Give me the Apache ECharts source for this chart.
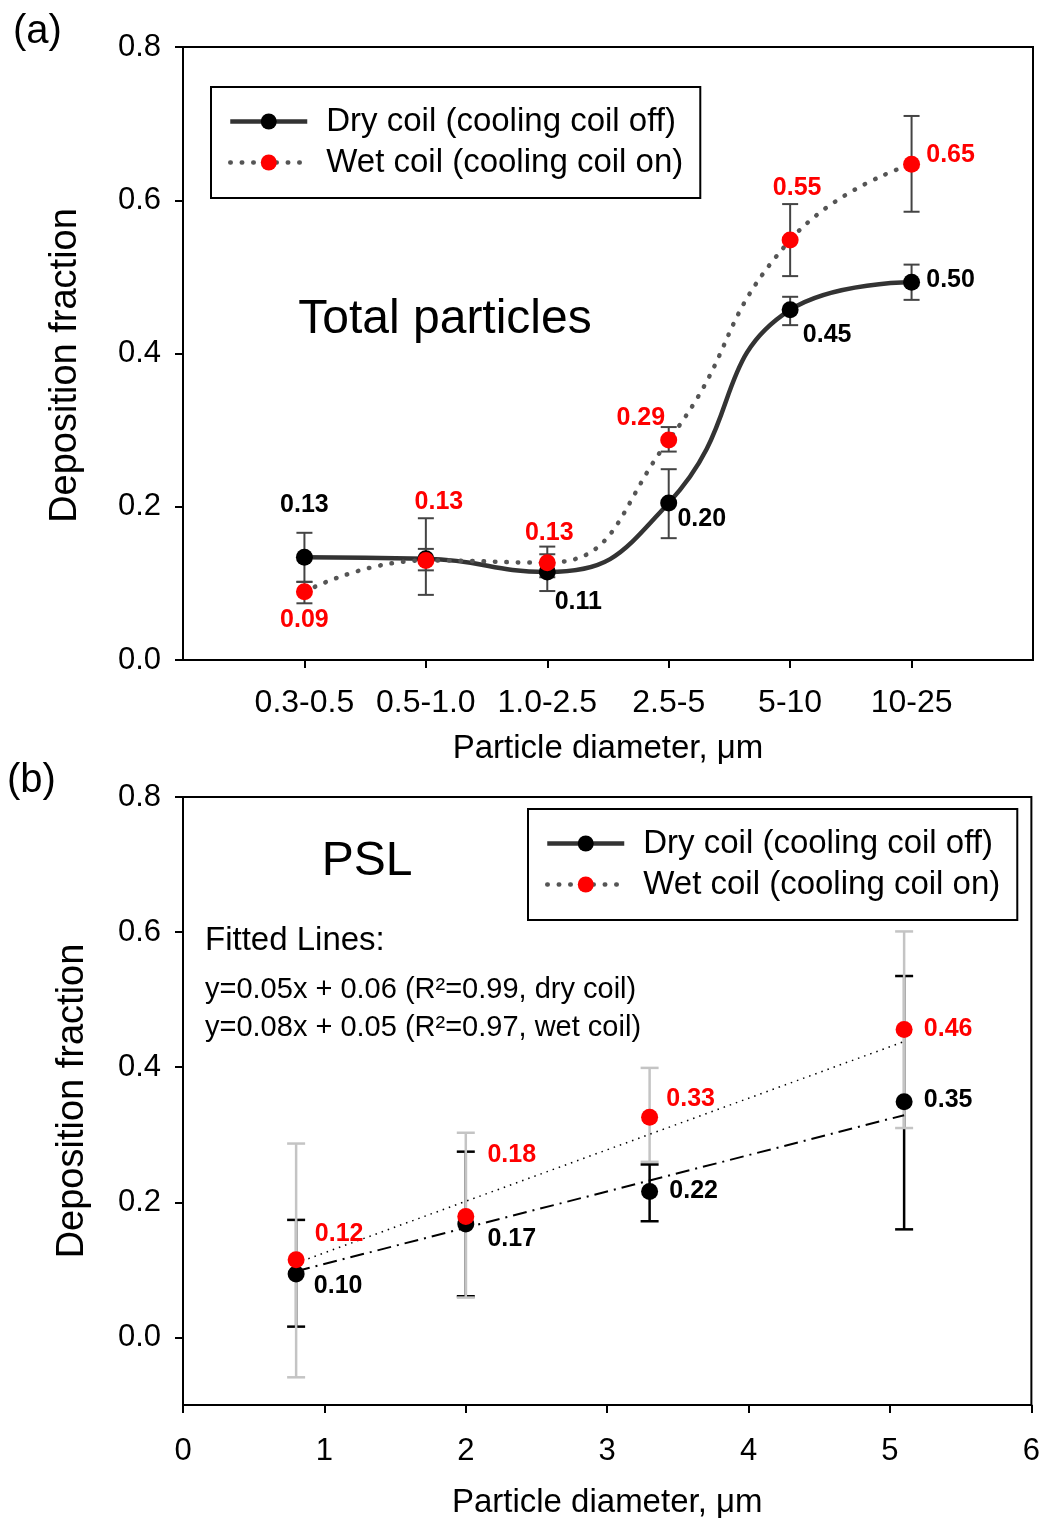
<!DOCTYPE html>
<html>
<head>
<meta charset="utf-8">
<script src="https://cdn.jsdelivr.net/npm/echarts@6/dist/echarts.min.js"></script>
<style>
  html, body { margin: 0; padding: 0; background: #fff; }
  #chart { width: 1043px; height: 1520px; }
</style>
</head>
<body>
<div id="chart"></div>
<script>
// (a) total particles, by size bin
const sizeBins = ["0.3-0.5", "0.5-1.0", "1.0-2.5", "2.5-5", "5-10", "10-25"];
const dryTotal = [0.134, 0.132, 0.115, 0.205, 0.457, 0.493];
const dryTotalLow = [0.102, 0.117, 0.090, 0.159, 0.437, 0.470];
const dryTotalHigh = [0.166, 0.145, 0.138, 0.249, 0.474, 0.516];
const wetTotal = [0.089, 0.130, 0.127, 0.287, 0.548, 0.647];
const wetTotalLow = [0.074, 0.085, 0.108, 0.272, 0.501, 0.585];
const wetTotalHigh = [0.102, 0.185, 0.148, 0.304, 0.595, 0.710];
const dryTotalText = ["0.13", "", "0.11", "0.20", "0.45", "0.50"];
const wetTotalText = ["0.09", "0.13", "0.13", "0.29", "0.55", "0.65"];

// (b) PSL
const pslDiameter = [0.8, 2.0, 3.3, 5.1];
const dryPsl = [0.094, 0.168, 0.216, 0.349];
const dryPslLow = [0.016, 0.061, 0.172, 0.160];
const dryPslHigh = [0.174, 0.275, 0.256, 0.535];
const wetPsl = [0.115, 0.179, 0.326, 0.456];
const wetPslLow = [-0.059, 0.059, 0.260, 0.310];
const wetPslHigh = [0.287, 0.303, 0.399, 0.601];
const dryPslText = ["0.10", "0.17", "0.22", "0.35"];
const wetPslText = ["0.12", "0.18", "0.33", "0.46"];
const dryFit = [[0.8, 0.098], [5.1, 0.329]];
const wetFit = [[0.8, 0.110], [5.1, 0.438]];
const fitText = [
  "Fitted Lines:",
  "y=0.05x + 0.06 (R²=0.99, dry coil)",
  "y=0.08x + 0.05 (R²=0.97, wet coil)",
];

const yTicks = [0, 0.2, 0.4, 0.6, 0.8];
const DRY = "Dry coil (cooling coil off)";
const WET = "Wet coil (cooling coil on)";
const FONT = "'Liberation Sans', Arial, sans-serif";

// label offsets from the marker centre
const dryTotalOff = [[0, -52], [0, 0], [31, 30], [33, 16], [37, 25], [39, -2]];
const wetTotalOff = [[0, 28], [13, -58], [2, -30], [-28, -22], [7, -52], [39, -9]];
const dryPslOff = [[42, 12], [46, 15], [44, 0], [44, -2]];
const wetPslOff = [[43, -26], [46, -61], [41, -18], [44, 0]];

function points(xs, ys, texts, offs, color) {
  return ys.map((v, i) => ({
    value: [xs[i], v],
    label: {
      show: texts[i] !== "",
      position: "inside",
      offset: offs[i],
      formatter: texts[i],
      color: color,
      fontSize: 25,
      fontWeight: "bold",
      fontFamily: FONT,
    },
  }));
}

function errorBars(xs, lows, highs, color, width, cap, grid, z) {
  return {
    type: "custom",
    xAxisIndex: grid,
    yAxisIndex: grid,
    silent: true,
    z: z,
    data: xs.map((x, i) => [x, lows[i], highs[i]]),
    encode: { x: 0, y: [1, 2] },
    renderItem: function (params, api) {
      const lo = api.coord([api.value(0), api.value(1)]);
      const hi = api.coord([api.value(0), api.value(2)]);
      const style = { stroke: color, lineWidth: width };
      return {
        type: "group",
        children: [
          { type: "line", shape: { x1: lo[0], y1: lo[1], x2: hi[0], y2: hi[1] }, style: style },
          { type: "line", shape: { x1: lo[0] - cap, y1: lo[1], x2: lo[0] + cap, y2: lo[1] }, style: style },
          { type: "line", shape: { x1: hi[0] - cap, y1: hi[1], x2: hi[0] + cap, y2: hi[1] }, style: style },
        ],
      };
    },
  };
}

const binX = sizeBins.map((_, i) => i + 1);

const axisLine = { show: true, onZero: false, lineStyle: { color: "#000", width: 2 } };
const axisTick = { show: true, inside: false, length: 8, lineStyle: { color: "#000", width: 2 } };
const tickFont = { color: "#000", fontFamily: FONT };
const nameFont = { color: "#000", fontFamily: FONT };

function legendAt(left, top) {
  return {
    orient: "vertical",
    left: left,
    top: top,
    data: [DRY, WET],
    padding: [18, 17, 19, 17],
    borderColor: "#000",
    borderWidth: 2,
    itemWidth: 77,
    itemHeight: 20,
    itemGap: 8,
    selectedMode: false,
    lineStyle: { width: "inherit" },
    textStyle: {
      fontSize: 33,
      lineHeight: 33,
      color: "#000",
      fontFamily: FONT,
      padding: [0, 0, 0, 14],
    },
  };
}

const chart = echarts.init(document.getElementById("chart"), null, { renderer: "canvas" });

chart.setOption({
  backgroundColor: "#fff",
  animation: false,
  textStyle: { fontFamily: FONT },
  grid: [
    { left: 183, top: 47, width: 850, height: 613, show: true, borderColor: "#000", borderWidth: 2 },
    { left: 183, top: 797, width: 850, height: 611, show: true, borderColor: "#000", borderWidth: 2 },
  ],
  xAxis: [
    {
      gridIndex: 0,
      type: "value",
      min: 0,
      max: 7,
      interval: 1,
      axisLine: axisLine,
      axisTick: Object.assign({}, axisTick, { customValues: binX }),
      splitLine: { show: false },
      axisLabel: Object.assign({}, tickFont, {
        fontSize: 32,
        margin: 27,
        customValues: binX,
        formatter: (v) => sizeBins[Math.round(v) - 1] || "",
      }),
      name: "Particle diameter, \u03bcm",
      nameLocation: "middle",
      nameGap: 72,
      nameTextStyle: Object.assign({}, nameFont, { fontSize: 33 }),
    },
    {
      gridIndex: 1,
      type: "value",
      min: 0,
      max: 6,
      interval: 1,
      axisLine: axisLine,
      axisTick: axisTick,
      splitLine: { show: false },
      axisLabel: Object.assign({}, tickFont, { fontSize: 31, margin: 31 }),
      name: "Particle diameter, \u03bcm",
      nameLocation: "middle",
      nameGap: 81,
      nameTextStyle: Object.assign({}, nameFont, { fontSize: 33 }),
    },
  ],
  yAxis: [
    {
      gridIndex: 0,
      type: "value",
      min: 0,
      max: 0.8,
      interval: 0.2,
      axisLine: axisLine,
      axisTick: axisTick,
      splitLine: { show: false },
      axisLabel: Object.assign({}, tickFont, { fontSize: 31, margin: 22, formatter: (v) => v.toFixed(1) }),
      name: "Deposition fraction",
      nameLocation: "middle",
      nameGap: 98,
      nameTextStyle: Object.assign({}, nameFont, { fontSize: 38, padding: [0, 24, 0, 0] }),
    },
    {
      gridIndex: 1,
      type: "value",
      min: -0.1,
      max: 0.8,
      axisLine: axisLine,
      axisTick: Object.assign({}, axisTick, { customValues: yTicks }),
      splitLine: { show: false },
      axisLabel: Object.assign({}, tickFont, {
        fontSize: 31,
        margin: 22,
        customValues: yTicks,
        formatter: (v) => v.toFixed(1),
      }),
      name: "Deposition fraction",
      nameLocation: "middle",
      nameGap: 91,
      nameTextStyle: Object.assign({}, nameFont, { fontSize: 38 }),
    },
  ],
  legend: [legendAt(211, 87), legendAt(528, 809)],
  graphic: [
    { type: "text", left: 13, top: 12, style: { text: "(a)", fontSize: 40, fontFamily: FONT, fill: "#000" } },
    { type: "text", left: 7, top: 761, style: { text: "(b)", fontSize: 40, fontFamily: FONT, fill: "#000" } },
    {
      type: "text", x: 445, y: 320,
      style: { text: "Total particles", fontSize: 48, fontFamily: FONT, fill: "#000", align: "center", verticalAlign: "middle" },
    },
    {
      type: "text", x: 367, y: 862,
      style: { text: "PSL", fontSize: 48, fontFamily: FONT, fill: "#000", align: "center", verticalAlign: "middle" },
    },
    {
      type: "text", x: 205, y: 941,
      style: { text: fitText[0], fontSize: 33, fontFamily: FONT, fill: "#000", verticalAlign: "middle" },
    },
    {
      type: "text", x: 205, y: 990,
      style: { text: fitText[1], fontSize: 29, fontFamily: FONT, fill: "#000", verticalAlign: "middle" },
    },
    {
      type: "text", x: 205, y: 1028,
      style: { text: fitText[2], fontSize: 29, fontFamily: FONT, fill: "#000", verticalAlign: "middle" },
    },
  ],
  series: [
    // panel (a)
    errorBars(binX, dryTotalLow, dryTotalHigh, "#444", 2, 8, 0, 1),
    errorBars(binX, wetTotalLow, wetTotalHigh, "#444", 2, 8, 0, 1),
    {
      name: DRY,
      type: "line",
      xAxisIndex: 0,
      yAxisIndex: 0,
      z: 3,
      smooth: 0.5,
      symbol: "circle",
      symbolSize: 17,
      itemStyle: { color: "#000", opacity: 1 },
      lineStyle: { color: "#333", width: 4.5 },
      data: points(binX, dryTotal, dryTotalText, dryTotalOff, "#000"),
    },
    {
      name: WET,
      type: "line",
      xAxisIndex: 0,
      yAxisIndex: 0,
      z: 4,
      smooth: 0.5,
      symbol: "circle",
      symbolSize: 17,
      itemStyle: { color: "#ff0000", opacity: 1 },
      lineStyle: { color: "#555", width: 4.5, type: [0.5, 11], cap: "round" },
      data: points(binX, wetTotal, wetTotalText, wetTotalOff, "#ff0000"),
    },
    // panel (b)
    {
      type: "line",
      name: "dry fit",
      xAxisIndex: 1,
      yAxisIndex: 1,
      z: 2,
      silent: true,
      symbol: "none",
      lineStyle: { color: "#000", width: 2, type: [14, 6, 2, 6] },
      data: dryFit,
    },
    {
      type: "line",
      name: "wet fit",
      xAxisIndex: 1,
      yAxisIndex: 1,
      z: 2,
      silent: true,
      symbol: "none",
      lineStyle: { color: "#000", width: 1.5, type: [1.5, 5] },
      data: wetFit,
    },
    errorBars(pslDiameter, dryPslLow, dryPslHigh, "#000", 2.5, 9, 1, 1),
    errorBars(pslDiameter, wetPslLow, wetPslHigh, "#c4c4c4", 2.5, 9, 1, 1),
    {
      name: DRY,
      type: "scatter",
      xAxisIndex: 1,
      yAxisIndex: 1,
      z: 3,
      symbol: "circle",
      symbolSize: 17,
      itemStyle: { color: "#000", opacity: 1 },
      data: points(pslDiameter, dryPsl, dryPslText, dryPslOff, "#000"),
    },
    {
      name: WET,
      type: "scatter",
      xAxisIndex: 1,
      yAxisIndex: 1,
      z: 4,
      symbol: "circle",
      symbolSize: 17,
      itemStyle: { color: "#ff0000", opacity: 1 },
      data: points(pslDiameter, wetPsl, wetPslText, wetPslOff, "#ff0000"),
    },
  ],
});

window.addEventListener("resize", () => chart.resize());
</script>
</body>
</html>
